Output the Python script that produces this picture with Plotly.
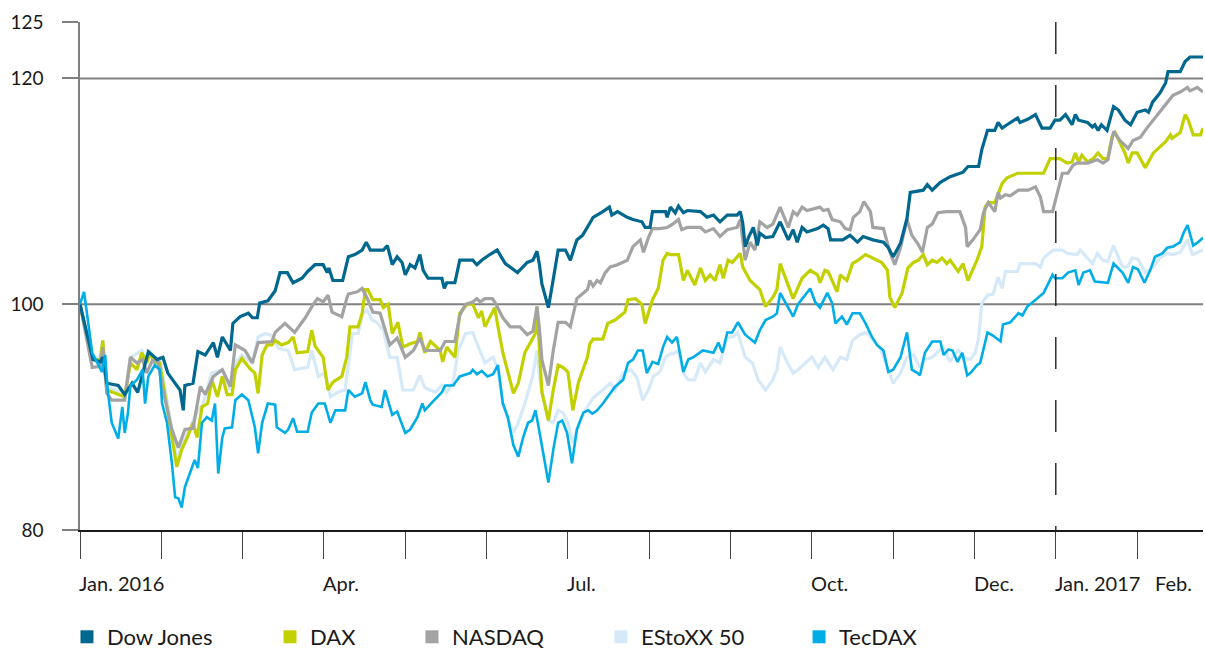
import plotly.graph_objects as go

# x = months since 1 Jan 2016 (0 = Jan. 2016, 12 = Jan. 2017), y = index (start = 100)
DOW_JONES = [
    (0.00, 100.0), (0.16, 95.1), (0.25, 94.9), (0.28, 95.3), (0.33, 93.0), (0.47, 92.8), (0.55, 92.0), (0.64, 93.0),
    (0.71, 92.2), (0.84, 95.8), (0.95, 95.1), (1.02, 95.3), (1.08, 93.9), (1.17, 93.0), (1.23, 92.4), (1.27, 90.6),
    (1.29, 92.8), (1.39, 93.0), (1.45, 95.8), (1.54, 95.5), (1.64, 96.6), (1.69, 95.3), (1.75, 97.1), (1.85, 95.9),
    (1.88, 98.3), (1.97, 98.9), (2.07, 99.2), (2.12, 98.8), (2.18, 98.8), (2.21, 100.1), (2.31, 100.3), (2.40, 101.2),
    (2.46, 102.8), (2.55, 102.8), (2.62, 101.9), (2.73, 102.3), (2.80, 102.9), (2.89, 103.5), (2.99, 103.5), (3.04, 102.8),
    (3.06, 103.2), (3.11, 102.1), (3.23, 102.1), (3.30, 104.2), (3.38, 104.4), (3.47, 104.8), (3.52, 105.5), (3.57, 104.8),
    (3.73, 104.8), (3.78, 105.2), (3.84, 103.5), (3.90, 104.2), (3.96, 103.7), (4.00, 102.6), (4.06, 103.5), (4.12, 103.2),
    (4.18, 104.4), (4.22, 103.0), (4.28, 102.3), (4.45, 102.3), (4.48, 101.4), (4.51, 101.9), (4.61, 101.9), (4.67, 103.9),
    (4.83, 103.9), (4.88, 103.5), (4.94, 103.9), (5.04, 104.4), (5.13, 104.8), (5.23, 103.6), (5.38, 102.8), (5.50, 103.7),
    (5.57, 103.9), (5.62, 104.7), (5.65, 103.5), (5.68, 101.8), (5.76, 99.7), (5.81, 101.8), (5.88, 104.8), (5.97, 104.8),
    (6.03, 103.9), (6.11, 105.7), (6.18, 106.1), (6.27, 107.2), (6.31, 107.7), (6.43, 108.2), (6.51, 108.6), (6.54, 107.9),
    (6.61, 108.2), (6.73, 107.7), (6.80, 107.5), (6.91, 107.3), (6.95, 106.8), (7.01, 106.8), (7.04, 108.2), (7.20, 108.2),
    (7.22, 107.7), (7.26, 108.6), (7.32, 108.1), (7.36, 108.7), (7.42, 108.1), (7.47, 108.3), (7.63, 108.2), (7.71, 107.7),
    (7.79, 107.9), (7.87, 107.3), (7.96, 107.9), (8.08, 107.9), (8.12, 108.2), (8.15, 107.2), (8.18, 105.1), (8.22, 105.9),
    (8.28, 106.8), (8.33, 105.2), (8.36, 106.3), (8.43, 105.9), (8.52, 106.0), (8.61, 107.3), (8.71, 105.7), (8.77, 106.6),
    (8.82, 105.5), (8.88, 106.8), (8.94, 106.4), (9.07, 106.7), (9.14, 107.0), (9.20, 106.7), (9.23, 105.7), (9.38, 105.7),
    (9.47, 106.1), (9.56, 105.5), (9.63, 106.0), (9.75, 105.7), (9.88, 105.5), (9.94, 105.0), (10.00, 104.2), (10.09, 105.4),
    (10.17, 107.6), (10.21, 109.9), (10.37, 110.1), (10.42, 110.6), (10.48, 110.1), (10.58, 110.8), (10.70, 111.3), (10.86, 111.7),
    (10.92, 112.2), (11.05, 112.2), (11.09, 113.7), (11.16, 115.4), (11.25, 115.4), (11.29, 116.1), (11.34, 115.6), (11.40, 115.9),
    (11.53, 116.5), (11.56, 116.1), (11.66, 116.4), (11.75, 116.8), (11.83, 115.6), (11.93, 115.6), (11.99, 116.3), (12.05, 116.3),
    (12.12, 116.8), (12.20, 115.9), (12.24, 116.8), (12.28, 116.3), (12.39, 116.1), (12.45, 115.7), (12.48, 115.9), (12.52, 115.4),
    (12.56, 115.9), (12.63, 115.4), (12.71, 117.5), (12.77, 117.2), (12.85, 116.3), (12.92, 115.9), (13.00, 117.0), (13.10, 117.2),
    (13.14, 117.0), (13.19, 117.9), (13.28, 118.7), (13.35, 119.6), (13.38, 120.6), (13.53, 120.6), (13.59, 121.5), (13.65, 121.9),
    (13.81, 121.9),
]

DAX = [
    (0.00, 100.0), (0.15, 95.1), (0.25, 95.1), (0.28, 96.8), (0.33, 92.4), (0.47, 92.0), (0.55, 91.8), (0.62, 94.8),
    (0.70, 94.2), (0.76, 95.7), (0.82, 94.8), (0.86, 95.7), (0.92, 94.8), (0.98, 94.8), (1.05, 91.8), (1.13, 88.2),
    (1.19, 85.6), (1.25, 87.1), (1.32, 88.2), (1.39, 89.5), (1.44, 88.2), (1.50, 90.9), (1.57, 91.2), (1.62, 93.3),
    (1.69, 91.8), (1.75, 93.6), (1.81, 92.0), (1.87, 92.0), (1.91, 94.2), (1.99, 95.2), (2.09, 94.3), (2.15, 93.9),
    (2.19, 92.1), (2.24, 95.5), (2.30, 96.4), (2.36, 96.4), (2.40, 96.8), (2.48, 96.4), (2.56, 96.6), (2.62, 97.1),
    (2.67, 95.7), (2.80, 95.8), (2.85, 97.7), (2.89, 96.3), (2.99, 95.3), (3.05, 92.4), (3.11, 93.1), (3.22, 93.6),
    (3.28, 95.3), (3.32, 98.0), (3.42, 98.0), (3.47, 99.2), (3.51, 101.3), (3.54, 101.3), (3.60, 100.4), (3.69, 100.4),
    (3.73, 99.7), (3.79, 100.0), (3.84, 97.4), (3.91, 98.4), (3.97, 96.2), (4.06, 96.5), (4.15, 96.7), (4.18, 97.5),
    (4.24, 95.7), (4.31, 96.7), (4.43, 95.9), (4.46, 94.9), (4.51, 96.2), (4.61, 95.3), (4.67, 99.2), (4.76, 100.0),
    (4.83, 100.0), (4.90, 98.8), (4.94, 99.4), (4.98, 98.0), (5.10, 99.7), (5.14, 98.0), (5.20, 95.7), (5.33, 92.1),
    (5.39, 93.0), (5.47, 95.7), (5.54, 96.7), (5.60, 97.4), (5.62, 99.8), (5.65, 96.0), (5.68, 92.2), (5.76, 89.7),
    (5.82, 92.4), (5.88, 94.6), (5.94, 94.4), (6.00, 94.0), (6.06, 90.6), (6.13, 93.1), (6.24, 95.3), (6.27, 96.5),
    (6.31, 96.9), (6.43, 96.9), (6.49, 98.3), (6.58, 98.6), (6.70, 99.3), (6.74, 100.4), (6.83, 100.5), (6.91, 100.0),
    (6.95, 98.3), (7.04, 100.4), (7.11, 101.4), (7.17, 103.9), (7.22, 104.5), (7.26, 104.4), (7.36, 104.4), (7.42, 102.1),
    (7.47, 103.0), (7.56, 101.7), (7.63, 103.2), (7.69, 102.1), (7.75, 102.6), (7.81, 102.1), (7.87, 103.5), (7.91, 102.3),
    (7.97, 103.9), (8.02, 103.7), (8.12, 104.5), (8.15, 103.3), (8.24, 102.1), (8.36, 101.3), (8.43, 99.8), (8.52, 100.6),
    (8.57, 101.3), (8.61, 103.6), (8.67, 102.4), (8.71, 101.5), (8.77, 100.5), (8.83, 101.5), (8.88, 102.3), (8.98, 103.0),
    (9.07, 102.6), (9.10, 101.9), (9.16, 103.0), (9.20, 102.9), (9.26, 102.0), (9.31, 101.1), (9.35, 102.6), (9.43, 102.1),
    (9.50, 103.6), (9.57, 103.9), (9.66, 104.4), (9.75, 104.1), (9.86, 103.7), (9.93, 103.0), (9.96, 100.6), (10.02, 99.7),
    (10.11, 101.0), (10.18, 103.2), (10.25, 103.7), (10.31, 103.9), (10.37, 104.4), (10.42, 103.5), (10.48, 103.9), (10.54, 103.7),
    (10.60, 104.1), (10.66, 103.6), (10.70, 103.9), (10.80, 102.9), (10.86, 103.6), (10.92, 102.1), (11.03, 103.9), (11.09, 105.1),
    (11.13, 108.6), (11.17, 109.0), (11.25, 109.0), (11.34, 110.7), (11.40, 111.2), (11.53, 111.6), (11.85, 111.6), (11.93, 112.9),
    (12.05, 112.9), (12.14, 112.5), (12.20, 112.6), (12.24, 113.4), (12.28, 112.6), (12.32, 113.2), (12.39, 112.6), (12.46, 112.9),
    (12.52, 113.4), (12.58, 112.9), (12.64, 112.9), (12.69, 114.8), (12.73, 115.2), (12.79, 114.3), (12.85, 113.4), (12.89, 112.5),
    (12.94, 113.4), (13.00, 113.4), (13.10, 112.1), (13.20, 113.4), (13.28, 113.9), (13.35, 114.4), (13.41, 115.0), (13.43, 114.7),
    (13.53, 115.2), (13.59, 116.8), (13.63, 116.3), (13.69, 115.0), (13.78, 115.0), (13.81, 115.6),
]

NASDAQ = [
    (0.00, 100.0), (0.15, 94.4), (0.25, 94.5), (0.28, 96.2), (0.33, 92.1), (0.39, 91.5), (0.55, 91.5), (0.62, 95.3),
    (0.70, 94.8), (0.77, 95.1), (0.82, 93.9), (0.89, 95.0), (0.96, 94.9), (1.02, 92.4), (1.13, 88.9), (1.21, 87.3),
    (1.29, 88.9), (1.39, 89.0), (1.48, 92.7), (1.54, 92.0), (1.64, 93.6), (1.75, 94.2), (1.85, 92.7), (1.91, 96.4),
    (2.03, 95.9), (2.12, 94.8), (2.19, 96.6), (2.36, 96.7), (2.40, 97.5), (2.52, 98.3), (2.64, 97.5), (2.77, 98.8),
    (2.87, 100.0), (2.92, 100.5), (2.99, 100.2), (3.05, 100.8), (3.10, 99.3), (3.22, 98.9), (3.28, 100.5), (3.30, 100.9),
    (3.41, 101.1), (3.47, 101.4), (3.54, 100.4), (3.60, 99.3), (3.69, 99.2), (3.81, 96.4), (3.90, 97.0), (4.00, 95.3),
    (4.10, 95.9), (4.18, 97.0), (4.24, 95.9), (4.43, 95.9), (4.49, 96.7), (4.61, 96.7), (4.67, 99.0), (4.74, 100.0),
    (4.83, 100.2), (4.88, 100.5), (4.92, 100.2), (4.98, 100.5), (5.07, 100.5), (5.10, 100.2), (5.20, 98.8), (5.29, 98.0),
    (5.41, 98.0), (5.50, 97.3), (5.57, 97.6), (5.62, 99.8), (5.65, 97.8), (5.68, 95.1), (5.76, 92.8), (5.82, 95.9),
    (5.88, 98.4), (5.97, 98.4), (6.03, 98.0), (6.11, 100.5), (6.19, 101.0), (6.24, 101.3), (6.27, 102.1), (6.31, 101.6),
    (6.36, 102.1), (6.40, 101.9), (6.46, 102.8), (6.52, 103.3), (6.61, 103.5), (6.73, 103.9), (6.80, 105.1), (6.89, 105.7),
    (6.93, 104.6), (6.99, 105.9), (7.04, 106.7), (7.13, 106.7), (7.22, 106.8), (7.29, 107.1), (7.36, 107.5), (7.40, 106.6),
    (7.47, 106.8), (7.63, 106.8), (7.69, 106.4), (7.79, 106.7), (7.87, 106.0), (7.96, 106.6), (8.08, 106.8), (8.12, 107.5),
    (8.15, 105.7), (8.18, 103.9), (8.24, 105.5), (8.30, 104.8), (8.36, 107.3), (8.45, 106.8), (8.52, 107.1), (8.61, 108.6),
    (8.71, 106.8), (8.77, 108.2), (8.82, 107.9), (8.88, 108.6), (8.94, 108.3), (9.04, 108.5), (9.10, 108.6), (9.14, 108.3),
    (9.20, 108.4), (9.25, 107.5), (9.35, 107.3), (9.41, 106.7), (9.47, 106.6), (9.51, 107.7), (9.59, 108.2), (9.64, 109.1),
    (9.72, 108.2), (9.75, 106.8), (9.88, 106.7), (9.96, 104.6), (10.02, 103.5), (10.09, 105.0), (10.17, 107.5), (10.23, 106.1),
    (10.30, 105.4), (10.36, 104.6), (10.42, 106.8), (10.48, 107.1), (10.55, 108.1), (10.66, 108.2), (10.82, 108.2), (10.89, 106.8),
    (10.91, 105.1), (10.98, 105.7), (11.07, 106.6), (11.11, 108.1), (11.17, 109.0), (11.25, 108.2), (11.29, 109.9), (11.32, 109.4),
    (11.38, 109.7), (11.44, 109.6), (11.54, 110.1), (11.66, 110.1), (11.75, 110.4), (11.81, 109.5), (11.85, 108.2), (11.96, 108.2),
    (12.02, 109.9), (12.08, 111.6), (12.15, 111.6), (12.21, 112.3), (12.26, 112.5), (12.39, 112.5), (12.51, 112.8), (12.58, 112.5),
    (12.64, 112.8), (12.71, 115.3), (12.79, 114.5), (12.89, 113.8), (12.95, 114.5), (13.04, 114.8), (13.12, 115.6), (13.20, 116.3),
    (13.28, 117.0), (13.37, 117.8), (13.44, 118.5), (13.53, 118.8), (13.62, 119.2), (13.65, 118.9), (13.74, 119.2), (13.81, 118.8),
]

ESTOXX_50 = [
    (0.00, 100.0), (0.15, 95.3), (0.25, 95.3), (0.28, 96.8), (0.33, 92.7), (0.55, 92.1), (0.62, 95.3), (0.76, 95.9),
    (0.82, 94.9), (0.86, 95.9), (0.92, 95.1), (0.98, 95.3), (1.05, 92.4), (1.13, 88.6), (1.19, 86.2), (1.25, 87.4),
    (1.38, 89.5), (1.45, 90.6), (1.51, 91.1), (1.62, 93.9), (1.75, 94.2), (1.85, 92.4), (1.91, 94.8), (1.99, 95.5),
    (2.12, 94.8), (2.19, 97.1), (2.28, 97.4), (2.37, 97.2), (2.44, 96.1), (2.56, 95.9), (2.64, 94.2), (2.80, 94.4),
    (2.85, 95.9), (2.93, 93.6), (3.01, 93.9), (3.08, 91.8), (3.17, 92.2), (3.26, 92.4), (3.35, 97.4), (3.42, 97.4),
    (3.48, 99.2), (3.53, 99.5), (3.59, 98.6), (3.65, 98.4), (3.73, 97.7), (3.81, 95.3), (3.90, 95.3), (3.97, 92.4),
    (4.10, 92.4), (4.18, 93.7), (4.24, 92.6), (4.37, 92.2), (4.45, 92.8), (4.51, 92.2), (4.59, 93.1), (4.65, 95.9),
    (4.74, 97.4), (4.83, 97.5), (4.90, 96.2), (4.98, 94.8), (5.08, 95.3), (5.13, 94.4), (5.20, 91.2), (5.33, 88.6),
    (5.39, 89.5), (5.47, 91.2), (5.57, 93.7), (5.62, 95.9), (5.66, 93.1), (5.76, 89.7), (5.82, 89.5), (5.88, 90.6),
    (5.94, 90.4), (6.00, 89.5), (6.06, 87.7), (6.15, 89.7), (6.24, 90.9), (6.31, 91.7), (6.43, 92.4), (6.52, 93.0),
    (6.58, 92.4), (6.68, 93.9), (6.77, 94.2), (6.85, 93.5), (6.92, 91.5), (6.99, 92.4), (7.05, 93.6), (7.13, 94.0),
    (7.20, 95.3), (7.26, 95.6), (7.29, 95.6), (7.36, 95.9), (7.42, 93.9), (7.48, 93.3), (7.56, 93.3), (7.63, 94.8),
    (7.69, 94.0), (7.79, 95.1), (7.87, 94.8), (7.96, 97.1), (8.03, 97.1), (8.09, 97.5), (8.18, 95.3), (8.27, 94.8),
    (8.34, 93.3), (8.43, 92.4), (8.52, 93.3), (8.57, 94.2), (8.61, 96.2), (8.70, 94.8), (8.77, 93.9), (8.83, 94.2),
    (8.89, 94.6), (9.00, 95.3), (9.08, 94.4), (9.16, 95.3), (9.26, 94.2), (9.35, 95.3), (9.43, 95.1), (9.50, 96.8),
    (9.59, 97.3), (9.68, 97.5), (9.75, 96.8), (9.84, 96.1), (9.93, 94.4), (10.00, 93.0), (10.09, 93.9), (10.17, 95.3),
    (10.25, 95.5), (10.33, 94.4), (10.39, 95.1), (10.48, 95.3), (10.54, 95.7), (10.61, 96.2), (10.70, 94.9), (10.74, 95.4),
    (10.80, 95.9), (10.89, 95.2), (10.95, 95.1), (11.01, 95.7), (11.05, 97.0), (11.09, 100.1), (11.16, 100.8), (11.23, 100.9),
    (11.29, 102.4), (11.34, 101.4), (11.38, 102.9), (11.53, 102.9), (11.56, 103.6), (11.75, 103.6), (11.81, 103.3), (11.85, 104.1),
    (11.97, 104.8), (12.08, 104.8), (12.14, 104.5), (12.26, 104.4), (12.30, 104.8), (12.39, 104.1), (12.45, 103.6), (12.51, 104.5),
    (12.58, 103.9), (12.64, 103.8), (12.71, 105.2), (12.82, 103.3), (12.88, 103.3), (12.94, 104.1), (13.01, 104.0), (13.10, 102.8),
    (13.20, 103.3), (13.28, 104.1), (13.37, 104.5), (13.44, 104.4), (13.53, 104.6), (13.62, 105.7), (13.68, 104.4), (13.81, 104.8),
]

TECDAX = [
    (0.00, 100.0), (0.05, 101.1), (0.15, 95.7), (0.21, 94.9), (0.27, 94.0), (0.31, 95.5), (0.34, 92.4), (0.39, 89.5),
    (0.47, 88.1), (0.52, 90.9), (0.55, 88.6), (0.59, 90.4), (0.62, 92.8), (0.70, 93.3), (0.77, 94.2), (0.80, 91.2),
    (0.84, 93.6), (0.92, 94.6), (0.98, 94.2), (1.01, 91.2), (1.07, 89.5), (1.13, 85.9), (1.17, 82.9), (1.21, 82.8),
    (1.25, 82.0), (1.29, 83.8), (1.38, 85.6), (1.41, 86.2), (1.45, 85.5), (1.50, 89.5), (1.56, 90.0), (1.62, 89.7),
    (1.66, 91.2), (1.70, 85.0), (1.75, 88.2), (1.78, 89.0), (1.87, 89.1), (1.91, 91.5), (1.99, 92.0), (2.07, 91.5),
    (2.15, 89.1), (2.19, 86.8), (2.24, 89.5), (2.31, 91.2), (2.40, 91.1), (2.42, 89.1), (2.52, 88.6), (2.56, 88.9),
    (2.62, 89.9), (2.67, 88.7), (2.80, 88.7), (2.85, 90.4), (2.93, 91.2), (3.01, 91.2), (3.08, 89.5), (3.14, 90.6),
    (3.26, 90.6), (3.30, 92.4), (3.38, 91.8), (3.47, 92.1), (3.51, 93.1), (3.57, 91.5), (3.60, 91.1), (3.71, 90.9),
    (3.75, 92.4), (3.84, 90.2), (3.90, 90.5), (4.00, 88.6), (4.06, 88.9), (4.15, 90.0), (4.21, 91.2), (4.24, 90.6),
    (4.33, 91.3), (4.45, 92.2), (4.49, 92.8), (4.59, 92.8), (4.67, 93.6), (4.80, 93.9), (4.83, 94.2), (4.88, 93.8),
    (4.94, 94.1), (5.01, 93.6), (5.08, 93.8), (5.14, 94.6), (5.20, 91.2), (5.26, 90.0), (5.33, 87.5), (5.39, 86.5),
    (5.45, 88.2), (5.51, 89.5), (5.56, 89.7), (5.60, 90.6), (5.63, 89.5), (5.69, 87.1), (5.76, 84.2), (5.82, 87.1),
    (5.88, 89.5), (5.93, 89.7), (5.99, 88.6), (6.05, 85.9), (6.11, 88.9), (6.19, 90.4), (6.25, 90.6), (6.30, 90.3),
    (6.36, 90.6), (6.43, 91.2), (6.52, 92.1), (6.58, 92.7), (6.68, 93.3), (6.74, 94.8), (6.80, 95.1), (6.86, 95.9),
    (6.92, 95.9), (6.97, 93.9), (7.04, 94.9), (7.11, 94.7), (7.17, 96.2), (7.22, 97.1), (7.28, 96.6), (7.34, 97.1),
    (7.42, 94.0), (7.48, 95.1), (7.54, 95.3), (7.66, 95.9), (7.79, 95.7), (7.85, 96.6), (7.90, 95.7), (7.96, 97.5),
    (8.02, 97.5), (8.09, 98.4), (8.18, 97.3), (8.30, 96.6), (8.36, 97.7), (8.43, 98.6), (8.52, 98.9), (8.57, 99.2),
    (8.61, 101.0), (8.70, 99.8), (8.77, 98.9), (8.83, 100.0), (8.89, 100.6), (8.98, 101.4), (9.04, 100.2), (9.10, 99.7),
    (9.19, 101.0), (9.25, 100.1), (9.29, 98.3), (9.37, 98.9), (9.43, 98.2), (9.50, 99.2), (9.59, 99.2), (9.66, 98.3),
    (9.74, 97.1), (9.80, 96.4), (9.88, 95.9), (9.94, 94.0), (10.00, 94.2), (10.09, 95.3), (10.17, 97.5), (10.23, 94.2),
    (10.30, 93.9), (10.33, 93.7), (10.39, 95.7), (10.48, 96.7), (10.58, 96.7), (10.62, 95.5), (10.68, 96.0), (10.73, 95.9),
    (10.79, 94.9), (10.85, 95.7), (10.91, 93.7), (10.95, 93.9), (11.03, 94.6), (11.07, 94.8), (11.16, 97.5), (11.23, 97.2),
    (11.32, 96.7), (11.35, 98.2), (11.44, 98.4), (11.54, 99.2), (11.59, 99.0), (11.65, 99.8), (11.77, 100.5), (11.85, 101.0),
    (11.96, 102.6), (11.99, 102.3), (12.08, 102.3), (12.15, 102.8), (12.24, 103.0), (12.28, 101.7), (12.34, 102.8), (12.42, 103.0),
    (12.48, 102.0), (12.64, 101.9), (12.71, 103.6), (12.82, 102.8), (12.89, 101.9), (12.95, 103.3), (13.01, 103.1), (13.09, 101.9),
    (13.16, 103.0), (13.22, 104.2), (13.31, 104.5), (13.37, 105.0), (13.44, 105.1), (13.53, 105.5), (13.57, 106.3), (13.62, 107.0),
    (13.69, 105.2), (13.75, 105.5), (13.81, 105.9),
]

MONTH_TICKS = list(range(14))
MONTH_LABELS = [(0, "Jan. 2016", -3), (3, "Apr.", -3), (6, "Jul.", -3), (9, "Oct.", -3),
                (11, "Dec.", -3), (12, "Jan. 2017", -3), (13, "Feb.", 16)]
Y_TICKS = [80, 100, 120, 125]
GRID_VALUES = [100, 120]
YEAR_BREAK = 12

FONT = "Lato, 'Open Sans', sans-serif"
TEXT = "#1a1a1a"

# (name, data, color, width) in drawing order (bottom to top)
SERIES = [
    ("EStoXX 50", ESTOXX_50, "#d5e9f8", 3.2),
    ("DAX", DAX, "#c3d000", 3.2),
    ("NASDAQ", NASDAQ, "#a3a3a3", 3.2),
    ("Dow Jones", DOW_JONES, "#00678f", 3.2),
    ("TecDAX", TECDAX, "#00ade6", 2.6),
]
LEGEND_ORDER = ["Dow Jones", "DAX", "NASDAQ", "EStoXX 50", "TecDAX"]
LEGEND_X = [-0.0116, 0.1692, 0.2956, 0.4639, 0.6403]

fig = go.Figure()
colors = {}
for name, data, color, width in SERIES:
    colors[name] = color
    fig.add_trace(go.Scatter(
        x=[p[0] for p in data], y=[p[1] for p in data], mode="lines", name=name,
        line=dict(color=color, width=width), showlegend=False, hoverinfo="skip"))

legends = {}
for i, name in enumerate(LEGEND_ORDER):
    key = "legend" if i == 0 else f"legend{i + 1}"
    fig.add_trace(go.Scatter(
        x=[None], y=[None], mode="markers", name=name, legend=key,
        marker=dict(symbol="square", size=13, color=colors[name]), showlegend=True))
    legends[key] = dict(x=LEGEND_X[i], y=-0.2106, xanchor="left", yanchor="middle",
                        orientation="h", bgcolor="rgba(0,0,0,0)", borderwidth=0,
                        font=dict(size=22, color=TEXT, family=FONT), itemwidth=30)

shapes = [dict(type="line", xref="paper", x0=0, x1=1, yref="y", y0=v, y1=v,
               line=dict(color="#808080", width=2), layer="below") for v in GRID_VALUES]
shapes.append(dict(type="line", xref="x", x0=YEAR_BREAK, x1=YEAR_BREAK, yref="y", y0=125, y1=80,
                   line=dict(color="#111111", width=1.3, dash="32px,31px")))

annotations = [dict(x=m, y=-0.104, xref="x", yref="paper", text=lab, showarrow=False,
                    xanchor="left", yanchor="middle", xshift=sh,
                    font=dict(size=20, color=TEXT, family=FONT))
               for m, lab, sh in MONTH_LABELS]

fig.update_layout(
    width=1205, height=649,
    margin=dict(l=80, r=2, t=22, b=119, autoexpand=False),
    paper_bgcolor="white", plot_bgcolor="white",
    font=dict(family=FONT, color=TEXT),
    shapes=shapes, annotations=annotations,
    **legends,
)
fig.update_xaxes(range=[0, 13.81], tickvals=MONTH_TICKS, showticklabels=False,
                 ticks="outside", ticklen=27, tickwidth=1.3, tickcolor="#444444",
                 showline=True, linecolor="#1a1a1a", linewidth=1.5,
                 showgrid=False, zeroline=False)
fig.update_yaxes(range=[80, 125], tickvals=Y_TICKS, ticks="outside", ticklen=16,
                 tickwidth=1.5, tickcolor="#808080", ticklabelstandoff=15,
                 tickfont=dict(size=19, color=TEXT, family=FONT),
                 showline=True, linecolor="#808080", linewidth=1.5,
                 showgrid=False, zeroline=False)

fig.write_html("out.html", config={"displayModeBar": False},
               post_script="document.body.style.margin='0';")
